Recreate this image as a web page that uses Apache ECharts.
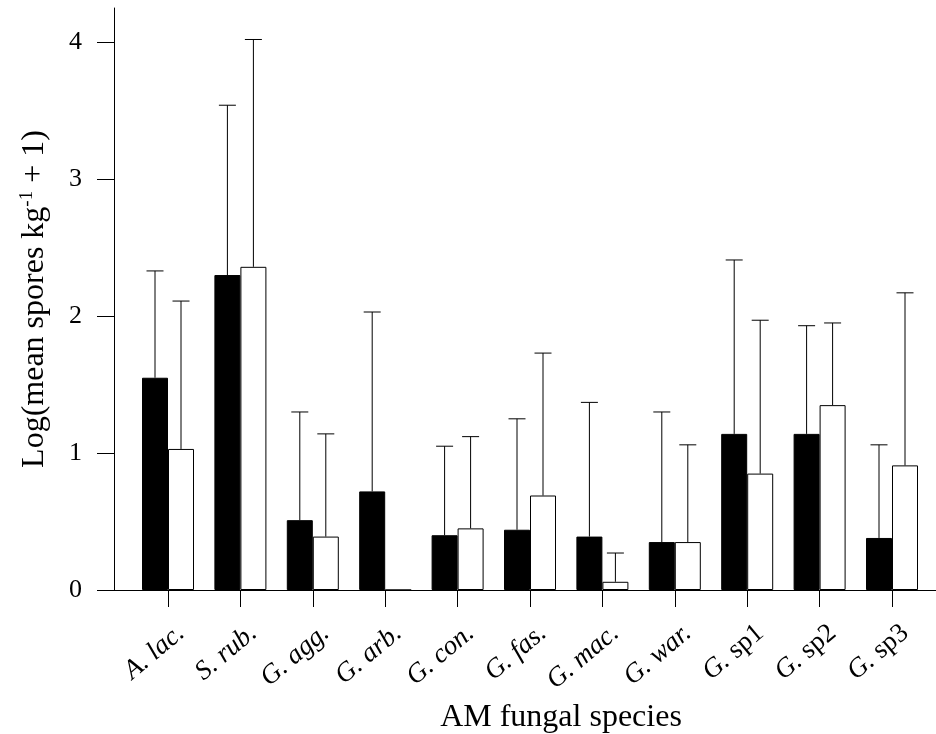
<!DOCTYPE html>
<html>
<head>
<meta charset="utf-8">
<script src="https://cdn.jsdelivr.net/npm/echarts@6/dist/echarts.min.js"></script>
<style>
  html, body { margin: 0; padding: 0; background: #fff; }
  #chart { width: 936px; height: 734px; }
</style>
</head>
<body>
<div id="chart"></div>
<script>
// data
const categories = ['A. lac.', 'S. rub.', 'G. agg.', 'G. arb.', 'G. con.', 'G. fas.', 'G. mac.', 'G. war.', 'G. sp1', 'G. sp2', 'G. sp3'];
const blackMeans = [1.55, 2.30, 0.51, 0.72, 0.40, 0.44, 0.39, 0.35, 1.14, 1.14, 0.38];
const blackUpper = [2.33, 3.54, 1.30, 2.03, 1.05, 1.25, 1.37, 1.30, 2.41, 1.93, 1.06];
const whiteMeans = [1.03, 2.36, 0.39, 0, 0.45, 0.69, 0.06, 0.35, 0.85, 1.35, 0.91];
const whiteUpper = [2.11, 4.02, 1.14, null, 1.12, 1.73, 0.27, 1.06, 1.97, 1.95, 2.17];
const yTicks = [0, 1, 2, 3, 4];

const font = 'Liberation Serif';
const barWidth = 26;
const yMax = 4.25;

// error bar items: [category, mean, upper, side]
const errData = [];
categories.forEach((c, i) => {
    if (blackUpper[i] != null) errData.push([i, blackMeans[i], blackUpper[i], -1]);
    if (whiteUpper[i] != null) errData.push([i, whiteMeans[i], whiteUpper[i], 1]);
});

function catLabel(v) {
    const m = v.match(/^(G\.) (sp\d)$/);
    if (m) return '{i|' + m[1] + ' }{n|' + m[2] + '}';
    return '{i|' + v + '}';
}

var myChart = echarts.init(document.getElementById('chart'));
var option = {
    animation: false,
    grid: [
        { left: 114, right: 0, top: 8, bottom: 144, outerBoundsMode: 'none' },
        { left: 131.8, right: 7.8, top: 8, bottom: 144, outerBoundsMode: 'none' }
    ],
    xAxis: [{
        gridIndex: 0,
        type: 'value',
        min: 0,
        max: 1,
        axisLine: { show: true, lineStyle: { color: '#000', width: 1 } },
        axisTick: { show: false },
        axisLabel: { show: false },
        splitLine: { show: false }
    }, {
        gridIndex: 1,
        type: 'category',
        data: categories,
        axisLine: { show: false },
        axisTick: { show: true, alignWithLabel: true, length: 17, lineStyle: { color: '#000' } },
        axisLabel: {
            rotate: 40,
            margin: 24,
            verticalAlign: 'top',
            padding: [7, 0, 0, 0],
            interval: 0,
            formatter: catLabel,
            rich: {
                i: { fontFamily: font, fontSize: 27, fontStyle: 'italic', color: '#000' },
                n: { fontFamily: font, fontSize: 27, color: '#000' }
            }
        },
        name: 'AM fungal species',
        nameLocation: 'middle',
        nameGap: 102,
        nameTextStyle: { fontFamily: font, fontSize: 32, color: '#000', padding: [0, 0, 0, 62] }
    }],
    yAxis: [{
        gridIndex: 0,
        type: 'value',
        min: 0,
        max: yMax,
        interval: 1,
        axisLine: { show: true, lineStyle: { color: '#000', width: 1 } },
        axisTick: { show: true, length: 17, customValues: yTicks, lineStyle: { color: '#000' } },
        axisLabel: {
            margin: 32,
            fontFamily: font,
            fontSize: 26,
            color: '#000',
            customValues: yTicks
        },
        splitLine: { show: false },
        name: 'Log(mean spores kg{sup|-1} + 1)',
        nameLocation: 'middle',
        nameGap: 62,
        nameTextStyle: {
            fontFamily: font, fontSize: 32, color: '#000',
            rich: { sup: { fontFamily: font, fontSize: 19, color: '#000', verticalAlign: 'top', padding: [0, 0, 15, 0] } }
        }
    }, {
        gridIndex: 1,
        type: 'value',
        min: 0,
        max: yMax,
        show: false
    }],
    series: [{
        name: 'black',
        type: 'bar',
        xAxisIndex: 1,
        yAxisIndex: 1,
        data: blackMeans,
        barWidth: barWidth,
        barGap: '0%',
        itemStyle: { color: '#000', borderColor: '#000', borderWidth: 1 }
    }, {
        name: 'white',
        type: 'bar',
        xAxisIndex: 1,
        yAxisIndex: 1,
        data: whiteMeans,
        barWidth: barWidth,
        barGap: '0%',
        itemStyle: { color: '#fff', borderColor: '#000', borderWidth: 1 }
    }, {
        name: 'error',
        type: 'custom',
        xAxisIndex: 1,
        yAxisIndex: 1,
        data: errData,
        z: 3,
        renderItem: function (params, api) {
            const i = api.value(0);
            const p0 = api.coord([i, api.value(1)]);
            const p1 = api.coord([i, api.value(2)]);
            const x = p0[0] + api.value(3) * barWidth / 2;
            const st = { stroke: '#000', lineWidth: 1 };
            return {
                type: 'group',
                children: [
                    { type: 'line', shape: { x1: x, y1: p0[1], x2: x, y2: p1[1] }, style: st },
                    { type: 'line', shape: { x1: x - 8.5, y1: p1[1], x2: x + 8.5, y2: p1[1] }, style: st }
                ]
            };
        }
    }]
};
myChart.setOption(option);
</script>
</body>
</html>
